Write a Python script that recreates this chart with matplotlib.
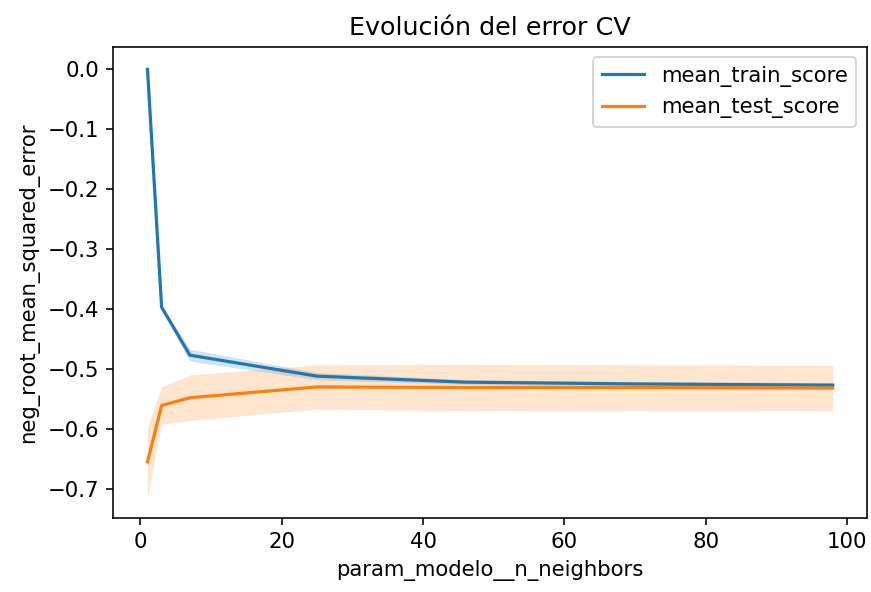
import matplotlib
matplotlib.use("Agg")
import matplotlib.pyplot as plt
import numpy as np

# valores
n_neighbors = [1, 3, 7, 25, 46, 70, 98]
mean_train = [0.0, -0.397, -0.477, -0.512, -0.522, -0.525, -0.527]
std_train = [0.002, 0.004, 0.010, 0.006, 0.004, 0.004, 0.004]
mean_test = [-0.655, -0.561, -0.548, -0.530, -0.531, -0.531, -0.532]
std_test = [0.058, 0.031, 0.038, 0.037, 0.039, 0.038, 0.038]

plt.rcParams["font.size"] = 10.6
plt.rcParams["axes.titlesize"] = 12.7
plt.rcParams["lines.linewidth"] = 1.6

x = np.array(n_neighbors)
tr = np.array(mean_train)
te = np.array(mean_test)

fig = plt.figure(figsize=(871 / 144, 592 / 144), dpi=144)
ax = fig.add_axes([0.130, 0.125, 0.8654, 0.796])

ax.plot(x, tr, color="C0", label="mean_train_score")
ax.plot(x, te, color="C1", label="mean_test_score")
ax.fill_between(x, tr - np.array(std_train), tr + np.array(std_train),
                color="C0", alpha=0.2, linewidth=0)
ax.fill_between(x, te - np.array(std_test), te + np.array(std_test),
                color="C1", alpha=0.2, linewidth=0)

ax.set_title("Evolución del error CV")
ax.set_xlabel("param_modelo__n_neighbors")
ax.set_ylabel("neg_root_mean_squared_error")
ax.legend(loc="upper right")

fig.savefig("out.png", dpi=144)
